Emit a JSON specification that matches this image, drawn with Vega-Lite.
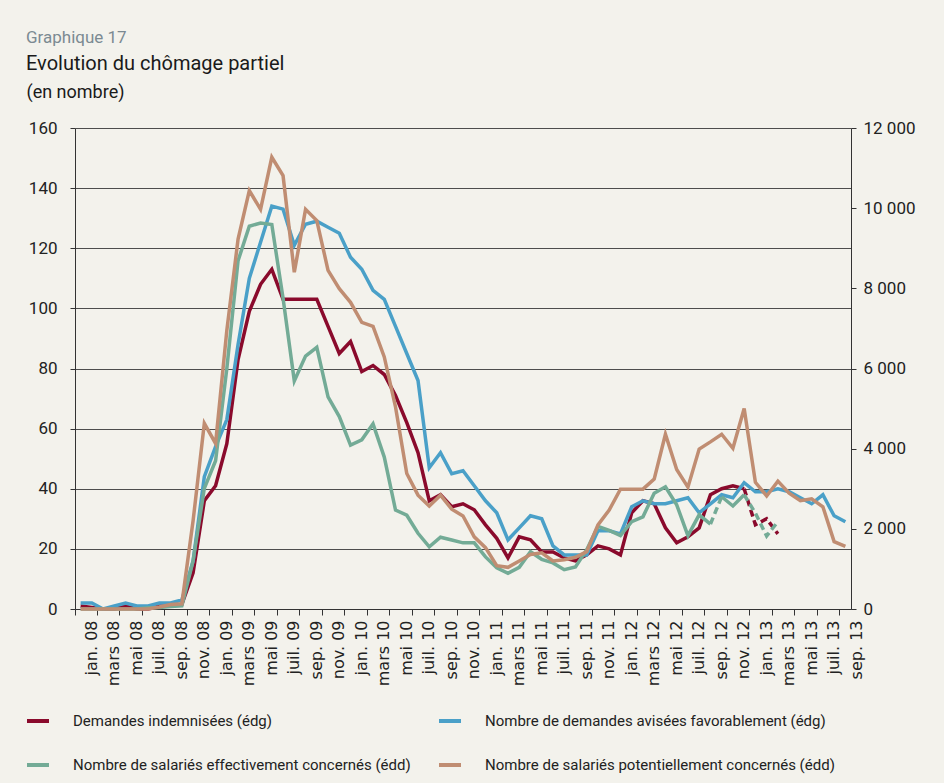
{
  "$schema": "https://vega.github.io/schema/vega-lite/v6.json",
  "width": 776,
  "height": 481,
  "autosize": {"type": "none"},
  "padding": {"left": 75, "top": 128, "right": 93, "bottom": 174},
  "background": "#f3f2ec",
  "config": {"view": {"stroke": null}, "font": "Roboto"},
  "title": {
    "text": "Graphique 17",
    "subtitle": "Evolution du chômage partiel",
    "anchor": "start",
    "frame": "group",
    "dx": -49,
    "offset": 8,
    "font": "Roboto",
    "fontSize": 17,
    "fontWeight": "normal",
    "color": "#7b8a92",
    "subtitleFont": "Roboto",
    "subtitleFontSize": 20,
    "subtitleColor": "#1a1a1a",
    "subtitlePadding": 7
  },
  "data": {
    "values": [
      {"i": 0, "m": "jan. 08", "r": 1, "b": 2, "g": 0, "t": 0},
      {"i": 1, "m": "févr. 08", "r": 0.5, "b": 2, "g": 0, "t": 0},
      {"i": 2, "m": "mars 08", "r": 0, "b": 0, "g": 0, "t": 0},
      {"i": 3, "m": "avr. 08", "r": 0, "b": 1, "g": 0, "t": 0},
      {"i": 4, "m": "mai 08", "r": 1, "b": 2, "g": 0, "t": 0},
      {"i": 5, "m": "juin 08", "r": 0, "b": 1, "g": 0, "t": 0},
      {"i": 6, "m": "juil. 08", "r": 0, "b": 1, "g": 30, "t": 0},
      {"i": 7, "m": "août 08", "r": 1, "b": 2, "g": 40, "t": 50},
      {"i": 8, "m": "sep. 08", "r": 1, "b": 2, "g": 60, "t": 110},
      {"i": 9, "m": "oct. 08", "r": 1.5, "b": 3, "g": 80, "t": 130},
      {"i": 10, "m": "nov. 08", "r": 12, "b": 16, "g": 1200, "t": 2200},
      {"i": 11, "m": "déc. 08", "r": 36, "b": 44, "g": 3010, "t": 4630},
      {"i": 12, "m": "jan. 09", "r": 41, "b": 54, "g": 3700, "t": 4130},
      {"i": 13, "m": "févr. 09", "r": 55, "b": 63, "g": 6000, "t": 6950},
      {"i": 14, "m": "mars 09", "r": 83, "b": 88, "g": 8690, "t": 9230},
      {"i": 15, "m": "avr. 09", "r": 99, "b": 110, "g": 9550, "t": 10440},
      {"i": 16, "m": "mai 09", "r": 108, "b": 122, "g": 9630, "t": 9970},
      {"i": 17, "m": "juin 09", "r": 113, "b": 134, "g": 9590, "t": 11270},
      {"i": 18, "m": "juil. 09", "r": 103, "b": 133, "g": 7750, "t": 10810},
      {"i": 19, "m": "août 09", "r": 103, "b": 121, "g": 5690, "t": 8400},
      {"i": 20, "m": "sep. 09", "r": 103, "b": 128, "g": 6310, "t": 9970},
      {"i": 21, "m": "oct. 09", "r": 103, "b": 129, "g": 6530, "t": 9690},
      {"i": 22, "m": "nov. 09", "r": 94, "b": 127, "g": 5290, "t": 8450},
      {"i": 23, "m": "déc. 09", "r": 85, "b": 125, "g": 4800, "t": 7990},
      {"i": 24, "m": "jan. 10", "r": 89, "b": 117, "g": 4090, "t": 7650},
      {"i": 25, "m": "févr. 10", "r": 79, "b": 113, "g": 4220, "t": 7150},
      {"i": 26, "m": "mars 10", "r": 81, "b": 106, "g": 4620, "t": 7050},
      {"i": 27, "m": "avr. 10", "r": 78, "b": 103, "g": 3790, "t": 6290},
      {"i": 28, "m": "mai 10", "r": 71, "b": 94, "g": 2470, "t": 5040},
      {"i": 29, "m": "juin 10", "r": 62, "b": 85, "g": 2340, "t": 3380},
      {"i": 30, "m": "juil. 10", "r": 52, "b": 76, "g": 1890, "t": 2840},
      {"i": 31, "m": "août 10", "r": 36, "b": 47, "g": 1550, "t": 2570},
      {"i": 32, "m": "sep. 10", "r": 38, "b": 52, "g": 1790, "t": 2840},
      {"i": 33, "m": "oct. 10", "r": 34, "b": 45, "g": 1720, "t": 2490},
      {"i": 34, "m": "nov. 10", "r": 35, "b": 46, "g": 1650, "t": 2320},
      {"i": 35, "m": "déc. 10", "r": 33, "b": 41, "g": 1650, "t": 1800},
      {"i": 36, "m": "jan. 11", "r": 28, "b": 36, "g": 1300, "t": 1530},
      {"i": 37, "m": "févr. 11", "r": 23.5, "b": 32, "g": 1030, "t": 1080},
      {"i": 38, "m": "mars 11", "r": 17, "b": 23, "g": 890, "t": 1040},
      {"i": 39, "m": "avr. 11", "r": 24, "b": 27, "g": 1040, "t": 1200},
      {"i": 40, "m": "mai 11", "r": 23, "b": 31, "g": 1430, "t": 1360},
      {"i": 41, "m": "juin 11", "r": 19, "b": 30, "g": 1240, "t": 1400},
      {"i": 42, "m": "juil. 11", "r": 19, "b": 21, "g": 1150, "t": 1200},
      {"i": 43, "m": "août 11", "r": 17, "b": 18, "g": 980, "t": 1230},
      {"i": 44, "m": "sep. 11", "r": 16, "b": 18, "g": 1050, "t": 1290},
      {"i": 45, "m": "oct. 11", "r": 18, "b": 18, "g": 1480, "t": 1430},
      {"i": 46, "m": "nov. 11", "r": 21, "b": 26, "g": 2060, "t": 2100},
      {"i": 47, "m": "déc. 11", "r": 20, "b": 26, "g": 1960, "t": 2470},
      {"i": 48, "m": "jan. 12", "r": 18, "b": 25, "g": 1830, "t": 2990},
      {"i": 49, "m": "févr. 12", "r": 32, "b": 34, "g": 2180, "t": 2990},
      {"i": 50, "m": "mars 12", "r": 36, "b": 36, "g": 2300, "t": 2990},
      {"i": 51, "m": "avr. 12", "r": 35, "b": 35, "g": 2890, "t": 3240},
      {"i": 52, "m": "mai 12", "r": 27, "b": 35, "g": 3050, "t": 4360},
      {"i": 53, "m": "juin 12", "r": 22, "b": 36, "g": 2600, "t": 3480},
      {"i": 54, "m": "juil. 12", "r": 24, "b": 37, "g": 1830, "t": 3040},
      {"i": 55, "m": "août 12", "r": 27, "b": 32, "g": 2350, "t": 3990},
      {"i": 56, "m": "sep. 12", "r": 38, "b": 35, "g": 2120, "t": 4170},
      {"i": 57, "m": "oct. 12", "r": 40, "b": 38, "g": 2800, "t": 4360},
      {"i": 58, "m": "nov. 12", "r": 41, "b": 37, "g": 2570, "t": 4010},
      {"i": 59, "m": "déc. 12", "r": 40, "b": 42, "g": 2850, "t": 5000},
      {"i": 60, "m": "jan. 13", "r": 28, "b": 39, "g": 2390, "t": 3160},
      {"i": 61, "m": "févr. 13", "r": 30, "b": 39, "g": 1820, "t": 2820},
      {"i": 62, "m": "mars 13", "r": 25, "b": 40, "g": 2180, "t": 3190},
      {"i": 63, "m": "avr. 13", "r": null, "b": 39, "g": null, "t": 2890},
      {"i": 64, "m": "mai 13", "r": null, "b": 37, "g": null, "t": 2700},
      {"i": 65, "m": "juin 13", "r": null, "b": 35, "g": null, "t": 2750},
      {"i": 66, "m": "juil. 13", "r": null, "b": 38, "g": null, "t": 2550},
      {"i": 67, "m": "août 13", "r": null, "b": 31, "g": null, "t": 1680},
      {"i": 68, "m": "sep. 13", "r": null, "b": 29, "g": null, "t": 1560}
    ]
  },
  "encoding": {
    "x": {
      "field": "m",
      "type": "ordinal",
      "bandPosition": 0.5,
      "scale": {
        "type": "band",
        "paddingInner": 0,
        "paddingOuter": 0,
        "domain": ["jan. 08","févr. 08","mars 08","avr. 08","mai 08","juin 08","juil. 08","août 08","sep. 08","oct. 08","nov. 08","déc. 08",
                   "jan. 09","févr. 09","mars 09","avr. 09","mai 09","juin 09","juil. 09","août 09","sep. 09","oct. 09","nov. 09","déc. 09",
                   "jan. 10","févr. 10","mars 10","avr. 10","mai 10","juin 10","juil. 10","août 10","sep. 10","oct. 10","nov. 10","déc. 10",
                   "jan. 11","févr. 11","mars 11","avr. 11","mai 11","juin 11","juil. 11","août 11","sep. 11","oct. 11","nov. 11","déc. 11",
                   "jan. 12","févr. 12","mars 12","avr. 12","mai 12","juin 12","juil. 12","août 12","sep. 12","oct. 12","nov. 12","déc. 12",
                   "jan. 13","févr. 13","mars 13","avr. 13","mai 13","juin 13","juil. 13","août 13","sep. 13"]
      },
      "axis": {
        "title": null,
        "values": ["jan. 08","mars 08","mai 08","juil. 08","sep. 08","nov. 08",
                   "jan. 09","mars 09","mai 09","juil. 09","sep. 09","nov. 09",
                   "jan. 10","mars 10","mai 10","juil. 10","sep. 10","nov. 10",
                   "jan. 11","mars 11","mai 11","juil. 11","sep. 11","nov. 11",
                   "jan. 12","mars 12","mai 12","juil. 12","sep. 12","nov. 12",
                   "jan. 13","mars 13","mai 13","juil. 13","sep. 13"],
        "bandPosition": 0,
        "labelOffset": 11.24,
        "labelAngle": -90,
        "labelFont": "DejaVu Sans",
        "labelFontSize": 16,
        "labelColor": "#222222",
        "labelPadding": 5,
        "tickSize": 6,
        "tickColor": "#333333",
        "domainColor": "#333333",
        "grid": false
      }
    }
  },
  "layer": [
    {
      "layer": [
        {
          "transform": [{"filter": "datum.i <= 59"}],
          "mark": {"type": "line", "strokeWidth": 3.5},
          "encoding": {
            "y": {
              "field": "r",
              "type": "quantitative",
              "scale": {"domain": [0, 160], "nice": false},
              "axis": {
                "orient": "left",
                "values": [0, 20, 40, 60, 80, 100, 120, 140, 160],
                "grid": true,
                "gridColor": "#4d4d4d",
                "gridWidth": 1.2,
                "domainColor": "#333333",
                "tickColor": "#333333",
                "tickSize": 5,
                "labelPadding": 13,
                "labelFont": "Roboto",
                "labelFontSize": 17,
                "labelColor": "#222222",
                "title": "(en nombre)",
                "titleAngle": 0,
                "titleAlign": "left",
                "titleBaseline": "alphabetic",
                "titleX": -49,
                "titleY": -31,
                "titleFont": "Roboto",
                "titleFontSize": 18,
                "titleFontWeight": "normal",
                "titleColor": "#1a1a1a"
              }
            },
            "color": {
              "datum": "Demandes indemnisées (édg)",
              "type": "nominal",
              "scale": {
                "domain": ["Demandes indemnisées (édg)", "Nombre de salariés effectivement concernés (édd)", "Nombre de demandes avisées favorablement (édg)", "Nombre de salariés potentiellement concernés (édd)"],
                "range": ["#8a0a2c", "#73ab96", "#4aa0c8", "#c08d72"]
              },
              "legend": {
                "title": null,
                "orient": "none",
                "legendX": -50,
                "legendY": 580,
                "columns": 2,
                "symbolType": "stroke",
                "symbolSize": 484,
                "symbolStrokeWidth": 4,
                "symbolDash": [1, 0],
                "labelFont": "Roboto",
                "labelFontSize": 15,
                "labelColor": "#222222",
                "labelOffset": 22,
                "columnPadding": 20,
                "rowPadding": 23,
                "labelLimit": 500
              }
            }
          }
        },
        {
          "transform": [{"filter": "datum.i >= 59 && datum.i <= 62"}],
          "mark": {"type": "line", "strokeWidth": 3.5, "strokeDash": [7, 4]},
          "encoding": {
            "y": {
              "field": "r",
              "type": "quantitative",
              "scale": {"domain": [0, 160], "nice": false},
              "axis": {
                "orient": "left",
                "values": [0, 20, 40, 60, 80, 100, 120, 140, 160],
                "grid": true,
                "gridColor": "#4d4d4d",
                "gridWidth": 1.2,
                "domainColor": "#333333",
                "tickColor": "#333333",
                "tickSize": 5,
                "labelPadding": 13,
                "labelFont": "Roboto",
                "labelFontSize": 17,
                "labelColor": "#222222",
                "title": "(en nombre)",
                "titleAngle": 0,
                "titleAlign": "left",
                "titleBaseline": "alphabetic",
                "titleX": -49,
                "titleY": -31,
                "titleFont": "Roboto",
                "titleFontSize": 18,
                "titleFontWeight": "normal",
                "titleColor": "#1a1a1a"
              }
            },
            "color": {"datum": "Demandes indemnisées (édg)", "type": "nominal"}
          }
        },
        {
          "mark": {"type": "line", "strokeWidth": 3.5},
          "encoding": {
            "y": {
              "field": "b",
              "type": "quantitative",
              "scale": {"domain": [0, 160], "nice": false},
              "axis": {
                "orient": "left",
                "values": [0, 20, 40, 60, 80, 100, 120, 140, 160],
                "grid": true,
                "gridColor": "#4d4d4d",
                "gridWidth": 1.2,
                "domainColor": "#333333",
                "tickColor": "#333333",
                "tickSize": 5,
                "labelPadding": 13,
                "labelFont": "Roboto",
                "labelFontSize": 17,
                "labelColor": "#222222",
                "title": "(en nombre)",
                "titleAngle": 0,
                "titleAlign": "left",
                "titleBaseline": "alphabetic",
                "titleX": -49,
                "titleY": -31,
                "titleFont": "Roboto",
                "titleFontSize": 18,
                "titleFontWeight": "normal",
                "titleColor": "#1a1a1a"
              }
            },
            "color": {"datum": "Nombre de demandes avisées favorablement (édg)", "type": "nominal"}
          }
        }
      ]
    },
    {
      "layer": [
        {
          "transform": [{"filter": "datum.i <= 56"}],
          "mark": {"type": "line", "strokeWidth": 3.5},
          "encoding": {
            "y": {
              "field": "g",
              "type": "quantitative",
              "scale": {"domain": [0, 12000], "nice": false},
              "axis": {
                "orient": "right",
                "values": [0, 2000, 4000, 6000, 8000, 10000, 12000],
                "labelExpr": "replace(format(datum.value, ','), ',', ' ')",
                "grid": false,
                "domainColor": "#333333",
                "tickColor": "#333333",
                "tickSize": 5,
                "labelPadding": 7,
                "labelFont": "Roboto",
                "labelFontSize": 17,
                "labelColor": "#222222",
                "title": null
              }
            },
            "color": {"datum": "Nombre de salariés effectivement concernés (édd)", "type": "nominal"}
          }
        },
        {
          "transform": [{"filter": "datum.i >= 57 && datum.i <= 59"}],
          "mark": {"type": "line", "strokeWidth": 3.5},
          "encoding": {
            "y": {
              "field": "g",
              "type": "quantitative",
              "scale": {"domain": [0, 12000], "nice": false},
              "axis": {
                "orient": "right",
                "values": [0, 2000, 4000, 6000, 8000, 10000, 12000],
                "labelExpr": "replace(format(datum.value, ','), ',', ' ')",
                "grid": false,
                "domainColor": "#333333",
                "tickColor": "#333333",
                "tickSize": 5,
                "labelPadding": 7,
                "labelFont": "Roboto",
                "labelFontSize": 17,
                "labelColor": "#222222",
                "title": null
              }
            },
            "color": {"datum": "Nombre de salariés effectivement concernés (édd)", "type": "nominal"}
          }
        },
        {
          "transform": [{"filter": "datum.i >= 56 && datum.i <= 57"}],
          "mark": {"type": "line", "strokeWidth": 3.5, "strokeDash": [7, 4]},
          "encoding": {
            "y": {
              "field": "g",
              "type": "quantitative",
              "scale": {"domain": [0, 12000], "nice": false},
              "axis": {
                "orient": "right",
                "values": [0, 2000, 4000, 6000, 8000, 10000, 12000],
                "labelExpr": "replace(format(datum.value, ','), ',', ' ')",
                "grid": false,
                "domainColor": "#333333",
                "tickColor": "#333333",
                "tickSize": 5,
                "labelPadding": 7,
                "labelFont": "Roboto",
                "labelFontSize": 17,
                "labelColor": "#222222",
                "title": null
              }
            },
            "color": {"datum": "Nombre de salariés effectivement concernés (édd)", "type": "nominal"}
          }
        },
        {
          "transform": [{"filter": "datum.i >= 59 && datum.i <= 62"}],
          "mark": {"type": "line", "strokeWidth": 3.5, "strokeDash": [7, 4]},
          "encoding": {
            "y": {
              "field": "g",
              "type": "quantitative",
              "scale": {"domain": [0, 12000], "nice": false},
              "axis": {
                "orient": "right",
                "values": [0, 2000, 4000, 6000, 8000, 10000, 12000],
                "labelExpr": "replace(format(datum.value, ','), ',', ' ')",
                "grid": false,
                "domainColor": "#333333",
                "tickColor": "#333333",
                "tickSize": 5,
                "labelPadding": 7,
                "labelFont": "Roboto",
                "labelFontSize": 17,
                "labelColor": "#222222",
                "title": null
              }
            },
            "color": {"datum": "Nombre de salariés effectivement concernés (édd)", "type": "nominal"}
          }
        },
        {
          "mark": {"type": "line", "strokeWidth": 3.5},
          "encoding": {
            "y": {
              "field": "t",
              "type": "quantitative",
              "scale": {"domain": [0, 12000], "nice": false},
              "axis": {
                "orient": "right",
                "values": [0, 2000, 4000, 6000, 8000, 10000, 12000],
                "labelExpr": "replace(format(datum.value, ','), ',', ' ')",
                "grid": false,
                "domainColor": "#333333",
                "tickColor": "#333333",
                "tickSize": 5,
                "labelPadding": 7,
                "labelFont": "Roboto",
                "labelFontSize": 17,
                "labelColor": "#222222",
                "title": null
              }
            },
            "color": {"datum": "Nombre de salariés potentiellement concernés (édd)", "type": "nominal"}
          }
        }
      ]
    }
  ],
  "resolve": {"scale": {"y": "independent"}}
}
